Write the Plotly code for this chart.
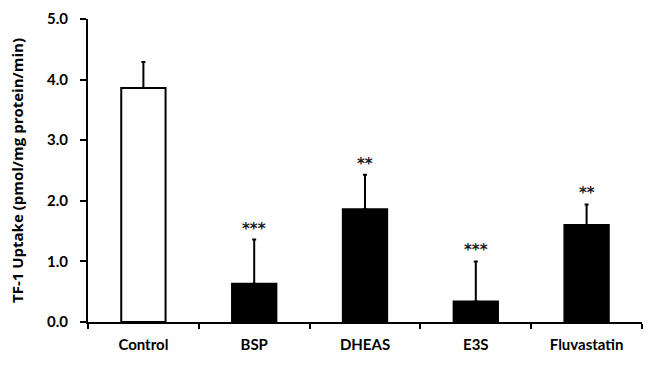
import plotly.graph_objects as go

categories = ["Control", "BSP", "DHEAS", "E3S", "Fluvastatin"]
uptake = [3.86, 0.63, 1.86, 0.34, 1.60]
sd_plus = [0.43, 0.73, 0.57, 0.66, 0.34]
significance = ["", "***", "**", "***", "**"]
fill_colors = ["white", "black", "black", "black", "black"]
y_ticks = [0, 1, 2, 3, 4, 5]
y_tick_text = ["0.0", "1.0", "2.0", "3.0", "4.0", "5.0"]

FONT = "Lato"

fig = go.Figure()
fig.add_trace(go.Bar(
    x=categories, y=uptake,
    marker=dict(color=fill_colors, line=dict(color="black", width=2)),
    width=0.4,
    error_y=dict(type="data", symmetric=False, array=sd_plus,
                 arrayminus=[0] * len(sd_plus),
                 color="black", thickness=2, width=2),
))

for cat, v, e, s in zip(categories, uptake, sd_plus, significance):
    if s:
        fig.add_annotation(x=cat, y=v + e, text=s, showarrow=False,
                           yanchor="middle", yshift=11,
                           font=dict(family="DejaVu Sans", size=15, color="#1a1a1a",
                                     weight="bold"))

fig.update_layout(
    width=649, height=387,
    margin=dict(l=88, r=7, t=19, b=65),
    plot_bgcolor="white", paper_bgcolor="white",
    showlegend=False,
    font=dict(family=FONT, size=15, color="black"),
    xaxis=dict(
        type="category", range=[-0.5, 4.5],
        showline=True, linecolor="black", linewidth=2,
        ticks="outside", tickson="boundaries", ticklen=5, tickwidth=2,
        tickcolor="black", ticklabelstandoff=8,
        tickfont=dict(family=FONT, size=15, color="black", weight="bold"),
        showgrid=False,
    ),
    yaxis=dict(
        range=[0, 5], tickvals=y_ticks, ticktext=y_tick_text,
        showline=True, linecolor="black", linewidth=2,
        ticks="outside", ticklen=6, tickwidth=2, tickcolor="black",
        ticklabelstandoff=9,
        tickfont=dict(family=FONT, size=15, color="black", weight="bold"),
        showgrid=False, zeroline=False,
        title=dict(text="TF-1 Uptake (pmol/mg protein/min)",
                   font=dict(family="Open Sans", size=15, color="black", weight="bold"),
                   standoff=20),
    ),
)

fig.write_html("out.html")
